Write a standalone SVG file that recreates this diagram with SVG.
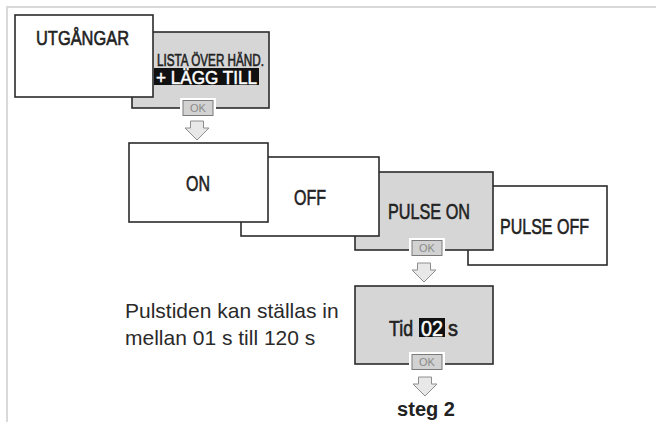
<svg xmlns="http://www.w3.org/2000/svg" width="656" height="426" viewBox="0 0 656 426">
<style>
.frame{stroke:#d9d9d9;stroke-width:2;fill:none}
.box{fill:#fff;stroke:#2b2b2b;stroke-width:1.6}
.gbox{fill:#d6d6d6;stroke:#2b2b2b;stroke-width:1.6}
.lbl{font-family:"Liberation Sans",Arial,sans-serif;fill:#222;stroke:#222;stroke-width:0.6}
.inv{font-family:"Liberation Sans",Arial,sans-serif;fill:#fff;stroke:#fff;stroke-width:0.5}
.halo{fill:#fff}
.okb{fill:#d2d2d2;stroke:#7a7a7a;stroke-width:1}
.okt{font-family:"Liberation Sans",Arial,sans-serif;font-size:11px;fill:#8a8a8a;text-anchor:middle}
.arr{fill:#e8e8e8;stroke:#8e8e8e;stroke-width:1}
.note{font-family:"Liberation Sans",Arial,sans-serif;font-size:21px;fill:#2a2a2a}
.step{font-family:"Liberation Sans",Arial,sans-serif;font-size:20px;font-weight:bold;fill:#222;text-anchor:middle}
</style>
<defs>
<g id="ok">
<rect class="halo" x="-18" y="-10" width="36" height="21"/>
<rect class="okb" x="-15" y="-7.5" width="30" height="15"/>
<text class="okt" x="0" y="4">OK</text>
</g>
<path id="arrow" class="arr" d="M-6.5,0 h13 v7 h5.5 L0,19 L-12,7 h5.5 Z"/>
</defs>
<g id="frame"><path class="frame" d="M6,7 H656 M7,7 V422"/></g>

<g id="lista">
<rect class="gbox" x="132" y="32" width="137" height="76"/>
<text class="lbl" x="157" y="65.5" font-size="16" textLength="107" lengthAdjust="spacingAndGlyphs">LISTA ÖVER HÄND.</text>
<rect x="154" y="68" width="105" height="17" fill="#111"/>
<text class="inv" x="156" y="84" font-size="18" textLength="101" lengthAdjust="spacingAndGlyphs">+ LÄGG TILL</text>
<use href="#ok" x="198" y="108"/>
</g>
<g id="utgangar">
<rect class="box" x="15" y="15" width="138" height="82"/>
<text class="lbl" x="36" y="45" font-size="20" textLength="93" lengthAdjust="spacingAndGlyphs">UTGÅNGAR</text>
</g>

<g id="pulseoff">
<rect class="box" x="468" y="186" width="139" height="79"/>
<text class="lbl" x="500" y="234" font-size="22.5" textLength="89" lengthAdjust="spacingAndGlyphs">PULSE OFF</text>
</g>
<g id="pulseon">
<rect class="gbox" x="355" y="172" width="138" height="78"/>
<text class="lbl" x="388" y="219" font-size="22.5" textLength="82" lengthAdjust="spacingAndGlyphs">PULSE ON</text>
<use href="#ok" x="427" y="248"/>
</g>
<g id="off">
<rect class="box" x="241" y="157" width="138" height="79"/>
<text class="lbl" x="294" y="205" font-size="22.5" textLength="32" lengthAdjust="spacingAndGlyphs">OFF</text>
</g>
<g id="on">
<rect class="box" x="129" y="143" width="139" height="79"/>
<text class="lbl" x="186" y="191" font-size="22.5" textLength="24" lengthAdjust="spacingAndGlyphs">ON</text>
</g>

<g id="tid">
<rect class="gbox" x="355" y="286" width="138" height="78"/>
<text class="lbl" x="389" y="335.5" font-size="22" textLength="24" lengthAdjust="spacingAndGlyphs">Tid</text>
<rect x="419" y="318" width="26" height="19" fill="#111"/>
<text class="inv" x="421" y="335.5" font-size="22" textLength="22" lengthAdjust="spacingAndGlyphs">02</text>
<text class="lbl" x="448" y="335.5" font-size="22" textLength="10" lengthAdjust="spacingAndGlyphs">s</text>
<use href="#ok" x="427" y="362"/>
</g>

<g id="connectors">
<use href="#arrow" x="197" y="121"/>
<use href="#arrow" x="424" y="263"/>
<use href="#arrow" x="425" y="377"/>
</g>

<g id="note">
<text class="note" x="125" y="318">Pulstiden kan ställas in</text>
<text class="note" x="125" y="345">mellan 01 s till 120 s</text>
</g>
<g id="steg2">
<text class="step" x="426" y="416">steg 2</text>
</g>
</svg>
